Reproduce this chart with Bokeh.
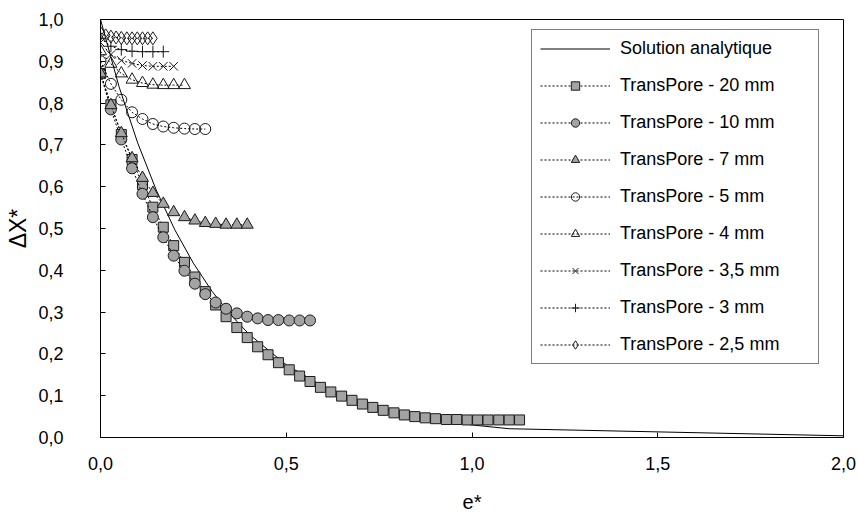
from bokeh.plotting import figure
from bokeh.models import Legend, LegendItem, FixedTicker, Range1d
from bokeh.embed import file_html
from bokeh.resources import INLINE

# ---------------- data ----------------
analytic_x = [0.0, 0.05, 0.1, 0.15, 0.2, 0.25, 0.3, 0.35, 0.4, 0.5, 0.6, 0.7, 0.8, 0.9, 1.0, 1.1, 2.0]
analytic_y = [1.0, 0.839, 0.705, 0.592, 0.497, 0.417, 0.350, 0.294, 0.247, 0.174, 0.122, 0.086,
              0.061, 0.043, 0.030, 0.021, 0.004]

x_20 = [0.000, 0.028, 0.056, 0.085, 0.113, 0.141, 0.169, 0.197, 0.226, 0.254, 0.282, 0.310, 0.338,
        0.367, 0.395, 0.423, 0.451, 0.479, 0.508, 0.536, 0.564, 0.592, 0.620, 0.649, 0.677, 0.705,
        0.733, 0.761, 0.790, 0.818, 0.846, 0.874, 0.902, 0.931, 0.959, 0.987, 1.015, 1.043, 1.072,
        1.100, 1.128]
y_20 = [0.871, 0.796, 0.725, 0.665, 0.605, 0.551, 0.503, 0.459, 0.419, 0.384, 0.349, 0.317, 0.289,
        0.263, 0.239, 0.217, 0.198, 0.179, 0.162, 0.147, 0.134, 0.120, 0.109, 0.099, 0.089, 0.080,
        0.072, 0.065, 0.059, 0.054, 0.050, 0.047, 0.045, 0.043, 0.043, 0.042, 0.042, 0.042, 0.042,
        0.042, 0.042]

x_10 = [0.000, 0.028, 0.056, 0.085, 0.113, 0.141, 0.169, 0.197, 0.226, 0.254, 0.282, 0.310, 0.338,
        0.367, 0.395, 0.423, 0.451, 0.479, 0.508, 0.536, 0.564]
y_10 = [0.870, 0.785, 0.713, 0.644, 0.583, 0.527, 0.479, 0.435, 0.399, 0.368, 0.343, 0.323, 0.308,
        0.297, 0.289, 0.285, 0.281, 0.281, 0.280, 0.280, 0.280]

x_7 = [0.000, 0.028, 0.056, 0.085, 0.113, 0.141, 0.169, 0.197, 0.226, 0.254, 0.282, 0.310, 0.338,
       0.367, 0.395]
y_7 = [0.871, 0.795, 0.728, 0.668, 0.621, 0.585, 0.559, 0.539, 0.527, 0.519, 0.513, 0.511, 0.509,
       0.509, 0.509]

x_5 = [0.000, 0.028, 0.056, 0.085, 0.113, 0.141, 0.169, 0.197, 0.226, 0.254, 0.282]
y_5 = [0.900, 0.846, 0.808, 0.778, 0.762, 0.750, 0.744, 0.741, 0.739, 0.738, 0.738]

x_4 = [0.000, 0.028, 0.056, 0.085, 0.113, 0.141, 0.169, 0.197, 0.226]
y_4 = [0.924, 0.894, 0.871, 0.856, 0.848, 0.844, 0.843, 0.843, 0.843]

x_35 = [0.000, 0.028, 0.056, 0.085, 0.113, 0.141, 0.169, 0.197]
y_35 = [0.945, 0.916, 0.902, 0.895, 0.890, 0.888, 0.888, 0.888]

x_3 = [0.000, 0.028, 0.056, 0.085, 0.113, 0.141, 0.169]
y_3 = [0.955, 0.936, 0.928, 0.924, 0.923, 0.923, 0.923]

x_25 = [0.000, 0.014, 0.028, 0.042, 0.056, 0.071, 0.085, 0.099, 0.113, 0.127, 0.141]
y_25 = [0.968, 0.962, 0.959, 0.957, 0.956, 0.955, 0.955, 0.955, 0.955, 0.955, 0.955]

x_ticks = [0.0, 0.5, 1.0, 1.5, 2.0]
x_tick_labels = ["0,0", "0,5", "1,0", "1,5", "2,0"]
y_ticks = [0.0, 0.1, 0.2, 0.3, 0.4, 0.5, 0.6, 0.7, 0.8, 0.9, 1.0]
y_tick_labels = ["0,0", "0,1", "0,2", "0,3", "0,4", "0,5", "0,6", "0,7", "0,8", "0,9", "1,0"]

series_names = ["TransPore - 20 mm", "TransPore - 10 mm", "TransPore - 7 mm", "TransPore - 5 mm",
                "TransPore - 4 mm", "TransPore - 3,5 mm", "TransPore - 3 mm", "TransPore - 2,5 mm"]

# ---------------- figure ----------------
FONT = "Liberation Sans"
GRAY = "#a3a3a3"
EDGE = "#1a1a1a"

p = figure(width=858, height=515, x_range=Range1d(0, 2), y_range=Range1d(0, 1),
           output_backend="svg", toolbar_location=None,
           min_border_left=100, min_border_right=15, min_border_top=19, min_border_bottom=78)
p.background_fill_color = "white"
p.border_fill_color = "white"
p.outline_line_color = "black"
p.outline_line_width = 1
p.xgrid.visible = False
p.ygrid.visible = False

for ax in (p.xaxis[0], p.yaxis[0]):
    ax.axis_line_color = "black"
    ax.major_tick_in = 5
    ax.major_tick_out = 0
    ax.minor_tick_line_color = None
    ax.major_tick_line_color = "black"
    ax.major_label_text_font = FONT
    ax.major_label_text_font_size = "18px"
    ax.major_label_text_color = "black"
    ax.axis_label_text_font = FONT
    ax.axis_label_text_font_style = "normal"
    ax.axis_label_text_color = "black"

p.xaxis.ticker = FixedTicker(ticks=x_ticks)
p.xaxis.major_label_overrides = dict(zip(x_ticks, x_tick_labels))
p.yaxis.ticker = FixedTicker(ticks=y_ticks)
p.yaxis.major_label_overrides = dict(zip(y_ticks, y_tick_labels))
p.xaxis.axis_label = "e*"
p.yaxis.axis_label = "ΔX*"
p.xaxis.axis_label_text_font_size = "20px"
p.yaxis.axis_label_text_font_size = "23px"
p.xaxis.major_label_standoff = 19
p.xaxis.axis_label_standoff = 18
p.yaxis.major_label_standoff = 37
p.yaxis.axis_label_standoff = 4

items = []
r_an = p.line(analytic_x, analytic_y, line_color="black", line_width=1)
items.append(LegendItem(label="Solution analytique", renderers=[r_an]))

DASH = "2 2"
specs = [
    (x_20, y_20, "square", 10, GRAY, 1.0),
    (x_10, y_10, "circle", 11, GRAY, 1.0),
    (x_7, y_7, "triangle", 12, GRAY, 1.0),
    (x_5, y_5, "circle", 11, "white", 0.0),
    (x_4, y_4, "triangle", 12, "white", 0.0),
    (x_35, y_35, "x", 12, "white", 0.0),
    (x_3, y_3, "cross", 12, "white", 0.0),
    (x_25, y_25, "diamond", 13, "white", 0.0),
]
for (xs, ys, marker, size, fill, falpha), name in zip(specs, series_names):
    rl = p.line(xs, ys, line_color="black", line_width=1, line_dash=DASH)
    rm = p.scatter(xs, ys, marker=marker, size=size, fill_color=fill, fill_alpha=falpha,
                   line_color=EDGE, line_width=1)
    items.append(LegendItem(label=name, renderers=[rl, rm]))

legend = Legend(items=items, location=(431, 73))
legend.border_line_color = "black"
legend.border_line_width = 1
legend.background_fill_color = "white"
legend.background_fill_alpha = 1.0
legend.label_text_font = FONT
legend.label_text_font_size = "18px"
legend.label_text_color = "black"
legend.padding = 8
legend.spacing = 16
legend.glyph_height = 21
legend.label_height = 21
legend.glyph_width = 70
legend.label_standoff = 10
legend.label_width = 190
legend.margin = 0
p.add_layout(legend, "center")

open("out.html", "w").write(file_html(p, INLINE))
